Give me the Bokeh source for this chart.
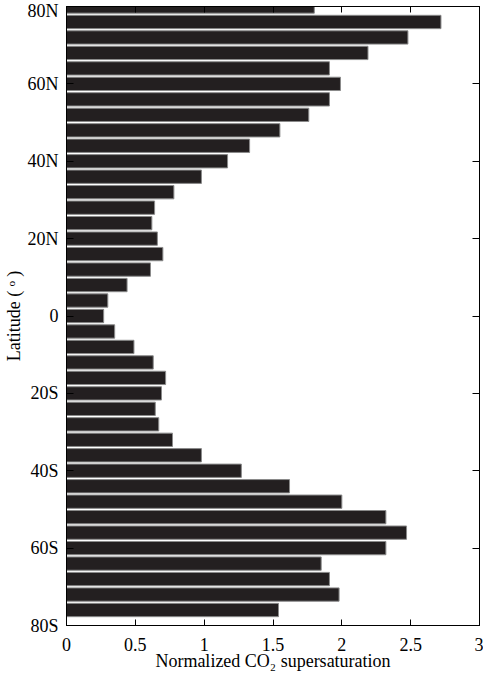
from bokeh.plotting import figure
from bokeh.models import (ColumnDataSource, LinearAxis, FixedTicker, Range1d,
                          CustomJSTickFormatter)
from bokeh.embed import file_html
from bokeh.resources import INLINE

# Latitude band centres (degrees, + = N, - = S)
latitudes = [80, 76, 72, 68, 64, 60, 56, 52, 48, 44, 40, 36, 32, 28, 24, 20,
             16, 12, 8, 4, 0, -4, -8, -12, -16, -20, -24, -28, -32, -36, -40,
             -44, -48, -52, -56, -60, -64, -68, -72, -76]
# Normalized CO2 supersaturation
supersaturation = [1.80, 2.72, 2.48, 2.19, 1.91, 1.99, 1.91, 1.76, 1.55, 1.33,
                   1.17, 0.98, 0.78, 0.64, 0.62, 0.66, 0.70, 0.61, 0.44, 0.30,
                   0.27, 0.35, 0.49, 0.63, 0.72, 0.69, 0.645, 0.67, 0.77, 0.98,
                   1.27, 1.62, 2.00, 2.32, 2.47, 2.32, 1.85, 1.91, 1.98, 1.54]

lat_ticks = [-80, -60, -40, -20, 0, 20, 40, 60, 80]
lat_tick_labels = ["80S", "60S", "40S", "20S", "0", "20N", "40N", "60N", "80N"]
x_ticks = [0, 0.5, 1, 1.5, 2, 2.5, 3]
x_tick_labels = ["0", "0.5", "1", "1.5", "2", "2.5", "3"]

FONT = "Liberation Serif"
FS = "18px"

src = ColumnDataSource(dict(lat=latitudes, val=supersaturation))

p = figure(width=483, height=677, output_backend="svg", toolbar_location=None,
           x_range=Range1d(0, 3), y_range=Range1d(-80, 80),
           min_border_left=65, min_border_right=4, min_border_top=6,
           min_border_bottom=52, x_axis_location=None, y_axis_location=None)
p.grid.visible = False
p.outline_line_color = "black"
p.outline_line_width = 1
p.background_fill_color = "white"
p.border_fill_color = "white"

p.hbar(y="lat", right="val", left=0, height=3.44, source=src,
       fill_color="#231f20", line_color="#8a8a8a", line_width=1)

empty = CustomJSTickFormatter(code="return ''")

def style(ax):
    ax.axis_line_color = "black"
    ax.major_tick_line_color = "black"
    ax.minor_tick_line_color = None
    ax.major_tick_out = 0
    ax.major_label_text_font = FONT
    ax.major_label_text_font_size = FS
    ax.major_label_text_color = "black"
    ax.axis_label_text_font = FONT
    ax.axis_label_text_font_size = FS
    ax.axis_label_text_font_style = "normal"
    ax.axis_label_text_color = "black"

left = LinearAxis(ticker=FixedTicker(ticks=lat_ticks),
                  major_label_overrides={t: l for t, l in zip(lat_ticks, lat_tick_labels)},
                  axis_label="Latitude ( \u1d52 )")
style(left)
left.major_tick_in = 7
left.major_label_standoff = 8
left.axis_label_standoff = 1
p.add_layout(left, "left")

right = LinearAxis(ticker=FixedTicker(ticks=lat_ticks), formatter=empty)
style(right)
right.major_tick_in = 7
right.major_label_standoff = 0
p.add_layout(right, "right")

bottom = LinearAxis(ticker=FixedTicker(ticks=x_ticks),
                    major_label_overrides={t: l for t, l in zip(x_ticks, x_tick_labels)},
                    axis_label="Normalized CO\u2082 supersaturation")
style(bottom)
bottom.major_tick_in = 6
bottom.major_label_standoff = 12
bottom.axis_label_standoff = -3
p.add_layout(bottom, "below")

top = LinearAxis(ticker=FixedTicker(ticks=x_ticks), formatter=empty)
style(top)
top.major_tick_in = 6
top.major_label_standoff = 0
p.add_layout(top, "above")

open("out.html", "w").write(file_html(p, INLINE))
